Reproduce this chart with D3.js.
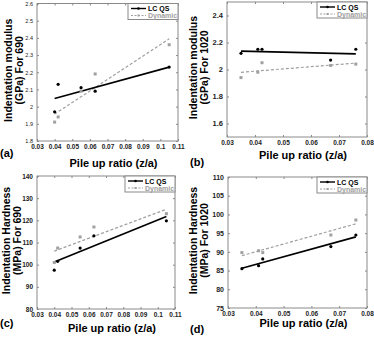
<!DOCTYPE html>
<html>
<head>
<meta charset="utf-8">
<script src="https://cdn.jsdelivr.net/npm/d3@7"></script>
<style>
  body { margin: 0; background: #fff; }
  svg { font-family: "Liberation Sans", Arial, sans-serif; }
</style>
</head>
<body>
<div id="chart"></div>
<script>
/* DATA */
// pile up ratio (z/a) for the two steels
const x690 = [0.040, 0.042, 0.055, 0.063, 0.105];
const x1020 = [0.035, 0.041, 0.0425, 0.067, 0.076];

// indentation modulus (GPa)
const modulus690QS = [1.97, 2.13, 2.11, 2.09, 2.23];
const modulus690Dyn = [1.91, 1.94, 2.09, 2.19, 2.36];
const modulus1020QS = [2.12, 2.15, 2.15, 2.07, 2.15];
const modulus1020Dyn = [1.94, 1.98, 2.05, 2.03, 2.04];

// indentation hardness (MPa)
const hardness690QS = [97.5, 101.5, 107.5, 113, 119.8];
const hardness690Dyn = [101, 107.5, 112.5, 117, 123];
const hardness1020QS = [85.5, 86.3, 88.1, 91.4, 94.5];
const hardness1020Dyn = [89.8, 90.3, 89.8, 94.5, 98.5];

const seriesNames = ["LC QS", "Dynamic"];
const xTicks690 = [0.03, 0.04, 0.05, 0.06, 0.07, 0.08, 0.09, 0.1, 0.11];
const xTicks1020 = [0.03, 0.04, 0.05, 0.06, 0.07, 0.08];
const yTicksA = [1.8, 1.9, 2, 2.1, 2.2, 2.3, 2.4, 2.5, 2.6];
const yTicksB = [1.6, 1.8, 2, 2.2, 2.4];
const yTicksC = [80, 90, 100, 110, 120, 130, 140];
const yTicksD = [75, 80, 85, 90, 95, 100, 105, 110];

/* CONSTANTS */
const width = 374, height = 337;
const qsColor = "#000", dynColor = "#a0a0a0", frameColor = "#8a8a8a";

const svg = d3.select("#chart").append("svg")
  .attr("width", width)
  .attr("height", height);

// box = [left, right, top, bottom]; titleX = x of the two y-title lines; xTitleY / tagY = baselines
const panels = [
  { tag: "(a)", x: x690, qs: modulus690QS, dyn: modulus690Dyn, xDom: [0.03, 0.11], yDom: [1.8, 2.6],
    xTicks: xTicks690, yTicks: yTicksA, box: [37, 178, 3.5, 141], title: ["Indentation modulus", "(GPa) For 690"],
    ySize: 5.5, yBold: "normal", titleX: [8, 19], xTitleY: 167, tagX: 0, tagY: 157 },
  { tag: "(b)", x: x1020, qs: modulus1020QS, dyn: modulus1020Dyn, xDom: [0.03, 0.08], yDom: [1.5, 2.5],
    xTicks: xTicks1020, yTicks: yTicksB, box: [227, 367, 2, 137], title: ["Indentation modulus", "(GPa) For 1020"],
    ySize: 7.5, yBold: "bold", titleX: [193, 204], xTitleY: 159, tagX: 190, tagY: 166 },
  { tag: "(c)", x: x690, qs: hardness690QS, dyn: hardness690Dyn, xDom: [0.03, 0.11], yDom: [80, 140],
    xTicks: xTicks690, yTicks: yTicksC, box: [37, 175, 176, 309], title: ["Indentation Hardness", "(MPa) For 690"],
    ySize: 6.5, yBold: "bold", titleX: [6, 17], xTitleY: 332, tagX: 0, tagY: 327 },
  { tag: "(d)", x: x1020, qs: hardness1020QS, dyn: hardness1020Dyn, xDom: [0.03, 0.08], yDom: [75, 110],
    xTicks: xTicks1020, yTicks: yTicksD, box: [228, 367, 177, 308], title: ["Indentation Hardness", "(MPa) For 1020"],
    ySize: 7, yBold: "bold", titleX: [193, 204], xTitleY: 327, tagX: 190, tagY: 333 }
];

// least squares fit, drawn across the data range
function fit(xs, ys) {
  const mx = d3.mean(xs), my = d3.mean(ys);
  const sxy = d3.sum(xs, (x, i) => (x - mx) * (ys[i] - my));
  const sxx = d3.sum(xs, x => (x - mx) * (x - mx));
  const b = sxy / sxx;
  const ext = d3.extent(xs);
  return ext.map(x => [x, my + b * (x - mx)]);
}

panels.forEach(p => drawPanel(p));

function drawPanel(p) {
  const [x0, x1, y0, y1] = p.box;
  const xScale = d3.scaleLinear().domain(p.xDom).range([x0, x1]);
  const yScale = d3.scaleLinear().domain(p.yDom).range([y1, y0]);
  const g = svg.append("g");

  // frame
  g.append("rect")
    .attr("x", x0).attr("y", y0)
    .attr("width", x1 - x0).attr("height", y1 - y0)
    .attr("fill", "none").attr("stroke", frameColor).attr("stroke-width", 1);

  // axes with inward ticks
  const xAxis = g.append("g")
    .attr("transform", `translate(0, ${y1})`)
    .call(d3.axisBottom(xScale).tickValues(p.xTicks).tickSize(-2).tickPadding(3).tickFormat(d => d));
  xAxis.select(".domain").remove();
  xAxis.selectAll("line").attr("stroke", frameColor);
  xAxis.selectAll("text").attr("font-size", 6.5).attr("font-weight", "bold").attr("fill", "#222");

  const xTop = g.append("g")
    .attr("transform", `translate(0, ${y0})`)
    .call(d3.axisTop(xScale).tickValues(p.xTicks).tickSize(-2).tickFormat(""));
  xTop.select(".domain").remove();
  xTop.selectAll("line").attr("stroke", frameColor);

  const yAxis = g.append("g")
    .attr("transform", `translate(${x0}, 0)`)
    .call(d3.axisLeft(yScale).tickValues(p.yTicks).tickSize(-2).tickPadding(4).tickFormat(d => d));
  yAxis.select(".domain").remove();
  yAxis.selectAll("line").attr("stroke", frameColor);
  yAxis.selectAll("text").attr("font-size", p.ySize).attr("font-weight", p.yBold).attr("fill", "#222");

  const yRight = g.append("g")
    .attr("transform", `translate(${x1}, 0)`)
    .call(d3.axisRight(yScale).tickValues(p.yTicks).tickSize(-2).tickFormat(""));
  yRight.select(".domain").remove();
  yRight.selectAll("line").attr("stroke", frameColor);

  // fit lines
  const line = d3.line().x(d => xScale(d[0])).y(d => yScale(d[1]));
  g.append("path")
    .datum(fit(p.x, p.dyn))
    .attr("d", line)
    .attr("fill", "none").attr("stroke", dynColor)
    .attr("stroke-width", 1.2).attr("stroke-dasharray", "3,2");
  g.append("path")
    .datum(fit(p.x, p.qs))
    .attr("d", line)
    .attr("fill", "none").attr("stroke", qsColor).attr("stroke-width", 1.7);

  // points
  g.selectAll(".dyn")
    .data(p.x.map((x, i) => [x, p.dyn[i]]))
    .join("rect")
    .attr("class", "dyn")
    .attr("x", d => xScale(d[0]) - 1.5).attr("y", d => yScale(d[1]) - 1.5)
    .attr("width", 3).attr("height", 3)
    .attr("fill", dynColor);
  g.selectAll(".qs")
    .data(p.x.map((x, i) => [x, p.qs[i]]))
    .join("circle")
    .attr("class", "qs")
    .attr("cx", d => xScale(d[0])).attr("cy", d => yScale(d[1]))
    .attr("r", 1.6)
    .attr("fill", qsColor);

  // legend
  const lw = 50, lh = 16;
  const lg = g.append("g").attr("transform", `translate(${x1 - lw}, ${y0})`);
  lg.append("rect")
    .attr("width", lw).attr("height", lh)
    .attr("fill", "#fff").attr("stroke", frameColor).attr("stroke-width", 1);
  seriesNames.forEach((name, i) => {
    const yy = 5 + i * 7;
    const col = i === 0 ? qsColor : dynColor;
    lg.append("line")
      .attr("x1", 3).attr("x2", 18).attr("y1", yy).attr("y2", yy)
      .attr("stroke", col)
      .attr("stroke-width", i === 0 ? 1.4 : 1)
      .attr("stroke-dasharray", i === 0 ? null : "2,1.5");
    if (i === 0) {
      lg.append("circle").attr("cx", 10.5).attr("cy", yy).attr("r", 1.3).attr("fill", col);
    } else {
      lg.append("rect").attr("x", 9.5).attr("y", yy - 1).attr("width", 2).attr("height", 2).attr("fill", col);
    }
    lg.append("text")
      .attr("x", 20).attr("y", yy + 2.5)
      .attr("font-size", 7).attr("font-weight", "bold")
      .attr("fill", col)
      .text(name);
  });

  // axis titles
  g.append("text")
    .attr("x", (x0 + x1) / 2 + 6).attr("y", p.xTitleY)
    .attr("text-anchor", "middle")
    .attr("font-size", 11).attr("font-weight", "bold")
    .text("Pile up ratio (z/a)");

  const cy = (y0 + y1) / 2 - 2;
  p.title.forEach((t, i) => {
    g.append("text")
      .attr("transform", `translate(${p.titleX[i] + 4}, ${cy}) rotate(-90)`)
      .attr("text-anchor", "middle")
      .attr("font-size", 10.5).attr("font-weight", "bold")
      .text(t);
  });

  g.append("text")
    .attr("x", p.tagX).attr("y", p.tagY)
    .attr("font-size", 11).attr("font-weight", "bold")
    .text(p.tag);
}
</script>
</body>
</html>
